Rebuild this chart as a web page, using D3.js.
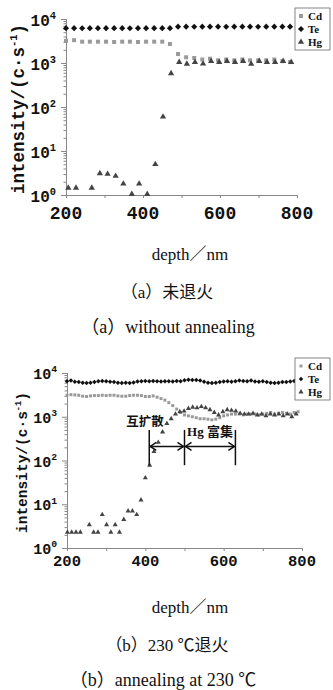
<!DOCTYPE html>
<html>
<head>
<meta charset="utf-8">
<script src="https://cdn.jsdelivr.net/npm/d3@7"></script>
<style>
  body { margin: 0; background: #fff; }
</style>
</head>
<body>
<div id="chart"></div>
<script>
// ---- panel (a): without annealing ----
const depthA = [200, 221, 242, 262, 283, 304, 325, 346, 366, 387, 408, 429, 450, 470, 491,
  512, 533, 554, 574, 595, 616, 637, 658, 678, 699, 720, 741, 762, 782];
const teA = [6200, 6200, 6150, 6200, 6200, 6200, 6200, 6200, 6150, 6200, 6200, 6200, 6200, 6200, 6700,
  6700, 6650, 6700, 6700, 6700, 6650, 6700, 6700, 6700, 6650, 6700, 6700, 6700, 6700];
const cdA = [3200, 3300, 3050, 3050, 3050, 3050, 3000, 3050, 3050, 3000, 3050, 3050, 3050, 2700, 1600,
  1350, 1300, 1200, 1250, 1150, 1200, 1150, 1200, 1150, 1150, 1150, 1200, 1100, 1050];
const hgDepthA = [206, 226, 267, 288, 308, 329, 349, 371, 390, 411, 432, 452, 473, 494,
  514, 535, 556, 577, 598, 618, 639, 660, 681, 702, 722, 743, 764, 785];
const hgA = [1.45, 1.45, 1.45, 3.1, 3.0, 2.7, 1.8, 1.05, 1.8, 1.05, 5.0, 60, 580, 1050,
  950, 1050, 960, 1100, 1050, 1100, 1050, 1100, 950, 1100, 1050, 1050, 1100, 1050];

// ---- panel (b): annealing at 230 C ----
const depthB = [200, 210, 220, 230, 240, 250, 260, 270, 280, 290, 300, 310, 320, 330, 340,
  350, 360, 370, 380, 390, 400, 410, 420, 430, 440, 450, 460, 470, 480, 490,
  500, 510, 520, 530, 540, 550, 560, 570, 580, 590, 600, 610, 620, 630, 640,
  650, 660, 670, 680, 690, 700, 710, 720, 730, 740, 750, 760, 770, 780, 790];
const teB = [6500, 6700, 6300, 6200, 6000, 5900, 6000, 6200, 6500, 6600, 6500, 6300, 6200, 6000, 5900,
  6000, 5900, 6100, 6400, 6500, 6600, 6500, 6600, 6500, 6400, 6500, 6500, 6400, 6600, 6500,
  6800, 7000, 6900, 6900, 6700, 6300, 6000, 5900, 6000, 6200, 6400, 6500, 6300, 6500, 6700,
  6600, 6500, 6700, 6400, 6300, 6500, 6200, 6000, 5900, 6000, 6200, 6200, 6400, 6600, 6800];
const cdB = [3100, 3200, 3150, 3100, 2950, 2900, 3000, 3050, 3050, 3100, 3050, 3100, 3100, 3000, 2950,
  2950, 3050, 3100, 3100, 3050, 2900, 2900, 3000, 2800, 2600, 2400, 2100, 1800, 1500, 1250,
  1100, 1050, 1000, 950, 900, 900, 880, 850, 880, 950, 1050, 1100, 1150, 1150, 1150,
  1100, 1150, 1150, 1150, 1100, 1150, 1200, 1250, 1150, 1200, 1250, 1200, 1150, 1250, 1300];
const hgDepthB = [201, 212, 223, 234, 257, 268, 279, 290, 301, 312, 323, 334, 345, 356, 367,
  378, 389, 400, 411, 422, 433, 444, 455, 466, 477, 488, 499, 510, 521, 532,
  543, 554, 565, 576, 587, 598, 609, 620, 631, 642, 653, 664, 675, 686, 697,
  708, 719, 730, 741, 752, 763, 774, 785];
const hgB = [2.3, 2.3, 2.3, 2.3, 3.4, 2.3, 2.3, 5.8, 3.4, 2.3, 3.4, 2.3, 4.5, 7.0, 7.0,
  5.8, 12.5, 40, 78, 160, 260, 450, 700, 900, 1150, 1300, 1350, 1550, 1650, 1600,
  1700, 1600, 1450, 1250, 1100, 1300, 1450, 1400, 1350, 1200, 1150, 1150, 1200, 1100, 1150,
  1050, 1150, 1100, 1150, 1050, 1150, 1000, 1150];

const xTicks = [200, 400, 600, 800];
const yTicks = [1, 10, 100, 1000, 10000];
const legendNames = ["Cd", "Te", "Hg"];
const captionsA = ["depth／nm", "（a）未退火", "（a）without annealing"];
const captionsB = ["depth／nm", "（b）230 ℃退火", "（b）annealing at 230 ℃"];
const zoneBounds = [410, 500, 630];
const zoneLabels = ["互扩散", "Hg 富集"];

const W = 333, H = 690;
const svg = d3.select("#chart").append("svg")
  .attr("width", W).attr("height", H);

const monoFont = "'Liberation Mono', 'DejaVu Sans Mono', monospace";
const serifFont = "'Liberation Serif', 'Noto Sans CJK SC', serif";

function drawPanel(p) {
  const g = svg.append("g");
  const x = d3.scaleLinear().domain([200, 800]).range([p.left, p.right]);
  const y = d3.scaleLog().domain([1, 10000]).range([p.bottom, p.top]);

  // minor log ticks on the y axis
  const minor = [];
  for (let e = 0; e < 4; e++) for (let k = 2; k <= 9; k++) minor.push(k * Math.pow(10, e));

  const yAxis = g.append("g")
    .attr("transform", `translate(${p.left},0)`)
    .call(d3.axisLeft(y).tickValues(minor).tickSize(2.5).tickFormat(""));
  yAxis.append("g")
    .call(d3.axisLeft(y).tickValues(yTicks).tickSize(5).tickFormat(""));
  yAxis.selectAll("path, line").attr("stroke", "#888");

  const xAxis = g.append("g")
    .attr("transform", `translate(0,${p.bottom})`)
    .call(d3.axisBottom(x).tickValues([200, 300, 400, 500, 600, 700, 800]).tickSize(3).tickFormat(""));
  xAxis.selectAll("path, line").attr("stroke", "#888");

  // x tick labels
  g.selectAll(".xl").data(xTicks).enter().append("text")
    .attr("x", d => x(d))
    .attr("y", p.bottom + p.xLabDy)
    .attr("text-anchor", "middle")
    .attr("font-family", monoFont)
    .attr("font-weight", "bold")
    .attr("font-size", p.xLabSize)
    .attr("fill", "#111")
    .text(d => d);

  // y tick labels 10^n
  const yl = g.selectAll(".yl").data(yTicks).enter().append("text")
    .attr("x", p.left - 10)
    .attr("y", d => y(d) + p.yLabDy)
    .attr("text-anchor", "end")
    .attr("font-family", monoFont)
    .attr("font-weight", "bold")
    .attr("font-size", p.yLabSize)
    .attr("fill", "#111");
  yl.append("tspan").text("10");
  yl.append("tspan")
    .attr("dy", -p.yLabSize * 0.45)
    .attr("font-size", p.yLabSize * 0.65)
    .text(d => Math.round(Math.log10(d)));

  // y title
  const yt = g.append("text")
    .attr("transform", `translate(${p.titleX},${(p.top + p.bottom) / 2 + 2}) rotate(-90)`)
    .attr("text-anchor", "middle")
    .attr("font-family", monoFont)
    .attr("font-weight", "bold")
    .attr("font-size", p.titleSize)
    .attr("fill", "#111");
  yt.append("tspan").text("intensity/(c·s");
  yt.append("tspan").attr("dy", -p.titleSize * 0.4).attr("font-size", p.titleSize * 0.6).text("-1");
  yt.append("tspan").attr("dy", p.titleSize * 0.4).text(")");

  // series
  const sym = {
    Cd: d3.symbol().type(d3.symbolSquare).size(p.cdSize),
    Te: d3.symbol().type(d3.symbolDiamond2).size(p.teSize),
    Hg: d3.symbol().type(d3.symbolTriangle).size(p.hgSize)
  };
  const colors = { Cd: "#9a9a9a", Te: "#111", Hg: "#444" };

  const series = [
    { name: "Cd", xs: p.depth, ys: p.cd },
    { name: "Te", xs: p.depth, ys: p.te },
    { name: "Hg", xs: p.hgDepth, ys: p.hg }
  ];
  series.forEach(s => {
    g.append("g").selectAll("path")
      .data(s.ys.map((v, i) => ({ d: s.xs[i], v: v })))
      .enter().append("path")
      .attr("d", sym[s.name])
      .attr("transform", d => `translate(${x(d.d)},${y(d.v)})`)
      .attr("fill", colors[s.name]);
  });

  // legend
  const lg = g.append("g");
  lg.append("rect")
    .attr("x", p.legX).attr("y", p.legY)
    .attr("width", 35).attr("height", 42)
    .attr("fill", "#fff").attr("stroke", "#666").attr("stroke-width", 0.8);
  legendNames.forEach((n, i) => {
    const cy = p.legY + 8 + i * 13;
    lg.append("path")
      .attr("d", sym[n])
      .attr("transform", `translate(${p.legX + 6},${cy})`)
      .attr("fill", colors[n]);
    lg.append("text")
      .attr("x", p.legX + 13).attr("y", cy + 4)
      .attr("font-family", serifFont)
      .attr("font-weight", "bold")
      .attr("font-size", 11)
      .attr("fill", "#111")
      .text(n);
  });

  // captions
  const capY = [p.bottom + 65, p.bottom + 103, p.bottom + 138];
  const capX = p.capX;
  const capSize = [17, 17, 18];
  p.captions.forEach((c, i) => {
    g.append("text")
      .attr("x", capX[i]).attr("y", capY[i])
      .attr("text-anchor", "middle")
      .attr("font-family", serifFont)
      .attr("font-size", capSize[i])
      .attr("fill", "#111")
      .text(c);
  });

  return { g, x, y };
}

drawPanel({
  left: 66, right: 297, top: 19, bottom: 195,
  depth: depthA, te: teA, cd: cdA, hgDepth: hgDepthA, hg: hgA,
  xLabDy: 24, xLabSize: 18, yLabDy: 7, yLabSize: 16,
  titleX: 24, titleSize: 17.5,
  cdSize: 16, teSize: 24, hgSize: 17,
  legX: 295, legY: 8,
  capX: [190, 167, 168],
  captions: captionsA
});

const pb = drawPanel({
  left: 67, right: 302, top: 373, bottom: 548,
  depth: depthB, te: teB, cd: cdB, hgDepth: hgDepthB, hg: hgB,
  xLabDy: 18, xLabSize: 15.5, yLabDy: 6, yLabSize: 15,
  titleX: 27, titleSize: 14.5,
  cdSize: 9, teSize: 13, hgSize: 11,
  legX: 295, legY: 358,
  capX: [190, 167, 163],
  captions: captionsB
});

// zone annotations in panel (b)
const ann = pb.g.append("g").attr("stroke", "#111").attr("stroke-width", 1.5).attr("fill", "none");
zoneBounds.forEach(d => {
  ann.append("line")
    .attr("x1", pb.x(d)).attr("x2", pb.x(d))
    .attr("y1", pb.y(500)).attr("y2", pb.y(78));
});
const arrowY = pb.y(210);
for (let i = 0; i < zoneBounds.length - 1; i++) {
  const x1 = pb.x(zoneBounds[i]) + 1, x2 = pb.x(zoneBounds[i + 1]) - 1;
  ann.append("line").attr("x1", x1).attr("x2", x2).attr("y1", arrowY).attr("y2", arrowY);
  ann.append("polyline").attr("points", `${x1 + 6},${arrowY - 4} ${x1},${arrowY} ${x1 + 6},${arrowY + 4}`);
  ann.append("polyline").attr("points", `${x2 - 6},${arrowY - 4} ${x2},${arrowY} ${x2 - 6},${arrowY + 4}`);
}
pb.g.append("text")
  .attr("x", 145).attr("y", pb.y(1000) + 9)
  .attr("text-anchor", "middle")
  .attr("font-family", "'Noto Sans CJK SC', sans-serif")
  .attr("font-weight", "bold")
  .attr("font-size", 12.5)
  .attr("fill", "#111")
  .text(zoneLabels[0]);
pb.g.append("text")
  .attr("x", pb.x(565)).attr("y", pb.y(500) + 6)
  .attr("text-anchor", "middle")
  .attr("font-family", "'Liberation Serif', 'Noto Sans CJK SC', serif")
  .attr("font-weight", "bold")
  .attr("font-size", 13)
  .attr("fill", "#111")
  .text(zoneLabels[1]);
</script>
</body>
</html>
